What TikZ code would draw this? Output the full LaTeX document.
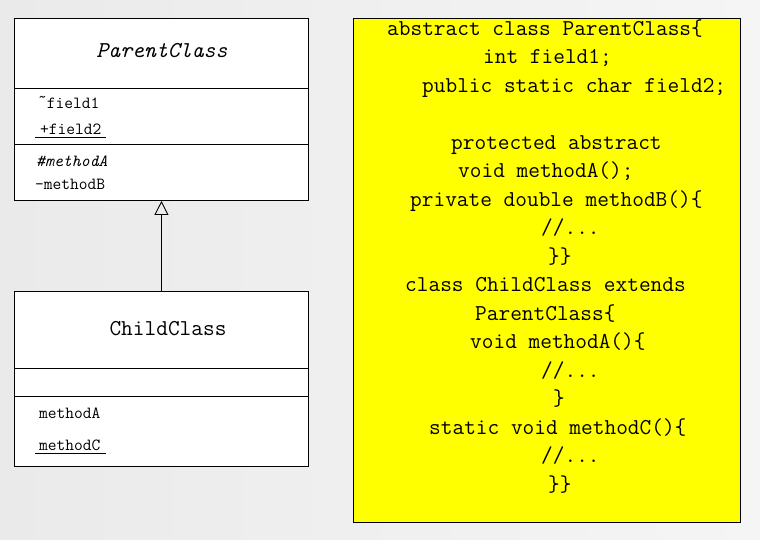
\documentclass[tikz,border=0pt]{standalone}
\usepackage{fontspec}
\usetikzlibrary{arrows.meta}
\definecolor{bgleft}{RGB}{234,234,234}
\definecolor{bgright}{RGB}{245,245,245}
\definecolor{codeyellow}{RGB}{255,255,0}
\begin{document}
\begin{tikzpicture}[x=1pt,y=-1pt,
  umlbox/.style={draw=black, line width=0.9pt, fill=white, minimum width=294pt, inner sep=0pt, anchor=north west},
  divline/.style={draw=black, line width=0.9pt},
  member/.style={anchor=base west, inner sep=0pt, font=\ttfamily\fontsize{17}{20}\selectfont},
  title/.style={anchor=base, inner sep=0pt, font=\ttfamily\fontsize{22.7}{27}\selectfont},
  code/.style={anchor=base west, inner sep=0pt, font=\ttfamily\fontsize{22.7}{27}\selectfont},
  inherit/.style={draw=black, line width=0.9pt, -{Triangle[open, width=14pt, length=14pt, line width=0.9pt]}}
]
\useasboundingbox (0,0) rectangle (760,539);
\shade[left color=bgleft, right color=bgright] (0,0) rectangle (760,539);

% ParentClass box
\node[umlbox, minimum height=182pt] (parent) at (14,18) {};
\draw[divline] (14,88) -- (308,88);
\draw[divline] (14,144) -- (308,144);
\node[title] (ptitle) at (162,57) {\itshape ParentClass};
\node[member] (f1) at (38,108) {\raisebox{0.3em}{\textasciitilde}field1};
\node[member] (f2) at (40,134) {+field2};
\draw[line width=0.7pt] (35,137) -- (106,137);
\node[member] (ma) at (36,166) {\itshape \#methodA};
\node[member] (mb) at (35,189) {-methodB};

% ChildClass box
\node[umlbox, minimum height=175pt] (child) at (14,291) {};
\draw[divline] (14,368) -- (308,368);
\draw[divline] (14,396) -- (308,396);
\node[title] (ctitle) at (168,335) {ChildClass};
\node[member] (cma) at (39,418) {methodA};
\node[member] (cmc) at (39,450) {methodC};
\draw[line width=0.7pt] (35,453) -- (106,453);

% inheritance
\draw[inherit] (child.north) -- (parent.south);

% code box
\node[draw=black, line width=1pt, fill=codeyellow, minimum width=387pt, minimum height=504pt, inner sep=0pt, anchor=north west] (codebox) at (353,18) {};
\node[code] (l1) at (387,35) {abstract class ParentClass\{};
\node[code] (l2) at (483,63.5) {int field1;};
\node[code] (l3) at (422,92) {public static char field2;};
\node[code] (l5) at (451,149) {protected abstract};
\node[code] (l6) at (458,177.5) {void methodA();};
\node[code] (l7) at (410,206) {private double methodB()\{};
\node[code] (l8) at (541,234.5) {//...};
\node[code] (l9) at (548,263) {\}\}};
\node[code] (l10) at (405,291.5) {class ChildClass extends};
\node[code] (l11) at (475,320) {ParentClass\{};
\node[code] (l12) at (470,348.5) {void methodA()\{};
\node[code] (l13) at (541,377) {//...};
\node[code] (l14) at (553,405.5) {\}};
\node[code] (l15) at (429,434) {static void methodC()\{};
\node[code] (l16) at (541,462.5) {//...};
\node[code] (l17) at (548,491) {\}\}};
\end{tikzpicture}
\end{document}
